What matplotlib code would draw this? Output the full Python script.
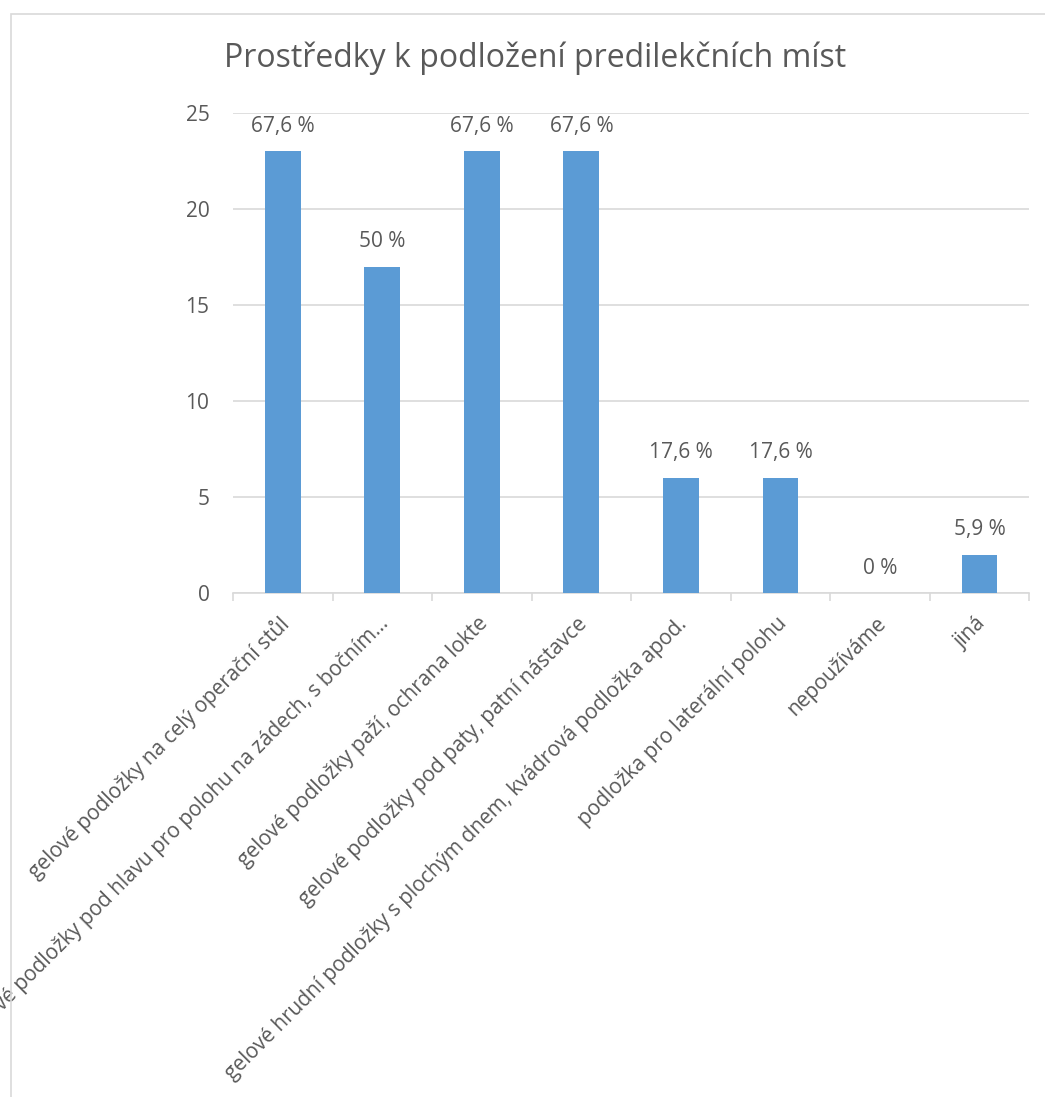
import matplotlib as mpl
mpl.use('Agg')
import matplotlib.pyplot as plt
from matplotlib.patches import Rectangle
from matplotlib.transforms import ScaledTranslation

plt.rcParams['font.family'] = ['Open Sans', 'DejaVu Sans']

categories = ['gelové podložky na celý operační stůl',
              'gelové podložky pod hlavu pro polohu na zádech, s bočním…',
              'gelové podložky paží, ochrana lokte',
              'gelové podložky pod paty, patní nástavce',
              'gelové hrudní podložky s plochým dnem, kvádrová podložka apod.',
              'podložka pro laterální polohu',
              'nepoužíváme',
              'jiná']
counts = [23, 17, 23, 23, 6, 6, 0, 2]
percent_labels = ['67,6 %', '50 %', '67,6 %', '67,6 %', '17,6 %', '17,6 %', '0 %', '5,9 %']

text_col = '#595959'
grid_col = '#d9d9d9'
bar_col = '#5b9bd5'

fig = plt.figure(figsize=(10.45, 10.97), dpi=100)
ax = fig.add_axes([0.223, 0.4594, 0.762, 0.4376])

x = list(range(len(categories)))
ax.bar(x, counts, width=0.36, color=bar_col, zorder=3)
ax.set_xlim(-0.5, len(categories) - 0.5)
ax.set_ylim(0, 25)
ax.set_yticks([0, 5, 10, 15, 20, 25])
ax.yaxis.grid(True, color=grid_col, lw=1.2, zorder=0)
for s in ['top', 'right', 'left']:
    ax.spines[s].set_visible(False)
ax.spines['bottom'].set_color(grid_col)
ax.spines['bottom'].set_linewidth(1.2)
ax.tick_params(axis='y', length=0, labelsize=15, labelcolor=text_col, pad=17)

ax.set_xticks([i + 0.5 for i in x[:-1]] + [-0.5, len(categories) - 0.5], minor=True)
ax.tick_params(axis='x', which='minor', length=6, color=grid_col, width=1.2)
ax.set_xticks(x)
ax.set_xticklabels(categories, rotation=45, ha='right', va='center',
                   rotation_mode='anchor', fontsize=15, color=text_col)
ax.tick_params(axis='x', which='major', length=0, pad=20)
shift = ScaledTranslation(0.03, 0, fig.dpi_scale_trans)
for lab in ax.get_xticklabels():
    lab.set_transform(lab.get_transform() + shift)

for xi, v, lab in zip(x, counts, percent_labels):
    ax.annotate(lab, (xi, v), xytext=(0, 14), textcoords='offset points',
                ha='center', va='baseline', fontsize=15, color=text_col)

fig.text(0.512, 0.947, 'Prostředky k podložení predilekčních míst',
         ha='center', va='center', fontsize=23, color=text_col)

fig.patches.append(Rectangle((11 / 1045, -0.01), 1.02, 1 - 14 / 1097 + 0.01,
                             transform=fig.transFigure, fill=False,
                             edgecolor=grid_col, lw=1.2))

fig.savefig('out.png', dpi=100)
